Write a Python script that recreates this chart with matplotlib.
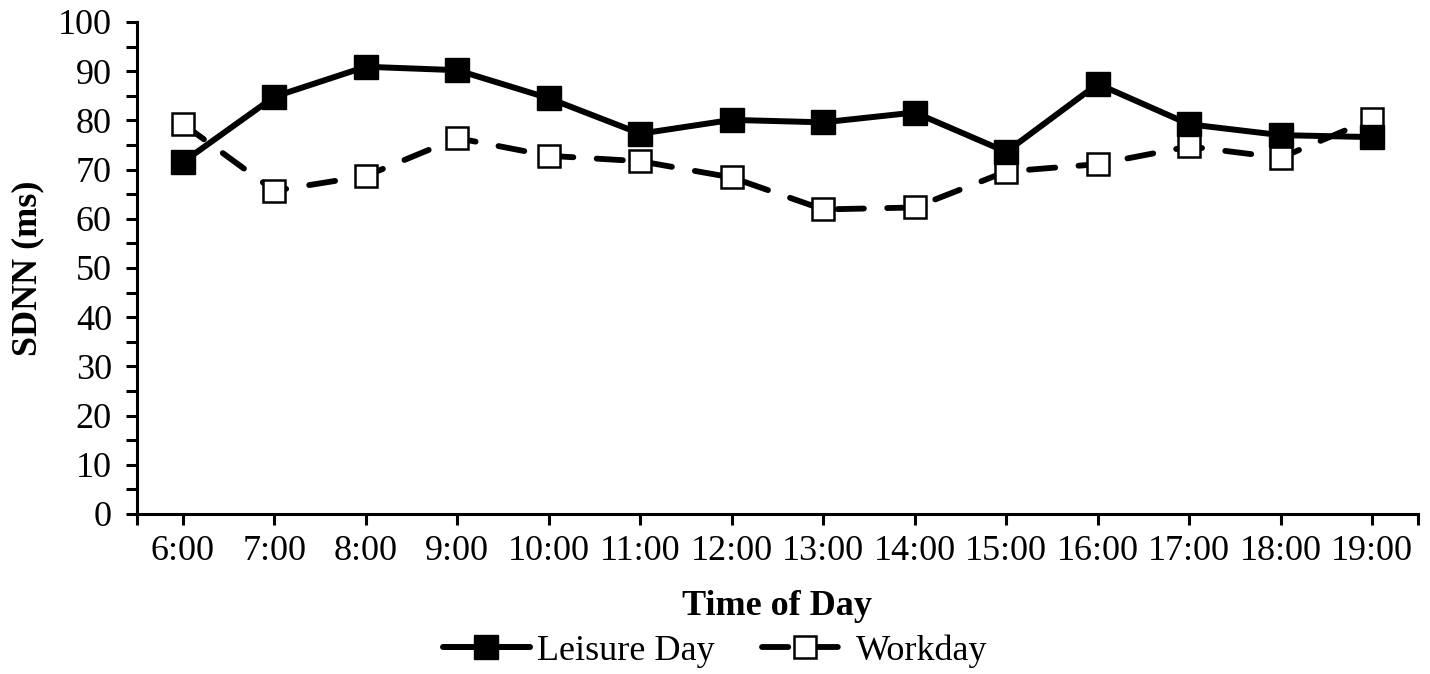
import matplotlib
matplotlib.use("Agg")
import matplotlib.pyplot as plt
from matplotlib.ticker import MultipleLocator, FixedLocator

times = ["6:00", "7:00", "8:00", "9:00", "10:00", "11:00", "12:00", "13:00",
         "14:00", "15:00", "16:00", "17:00", "18:00", "19:00"]
leisure = [71.5, 84.8, 90.9, 90.2, 84.5, 77.3, 80.1, 79.6, 81.6, 73.6, 87.4, 79.2, 77.0, 76.6]
workday = [79.3, 65.7, 68.7, 76.4, 72.8, 71.7, 68.4, 61.9, 62.3, 69.6, 71.1, 74.7, 72.4, 80.3]

plt.rcParams['font.family'] = ['Liberation Serif', 'DejaVu Serif']

fig = plt.figure(figsize=(14.3, 6.74), dpi=100)
ax = fig.add_axes([0.0958, 0.2374, 0.8958, 0.73])

x = list(range(len(times)))
ax.plot(x, workday, color='black', lw=4.2, dashes=(4.5, 4), dash_capstyle='round',
        marker='s', markersize=16, markerfacecolor='white', markeredgecolor='black',
        markeredgewidth=1.8, label='Workday', zorder=3)
ax.plot(x, leisure, color='black', lw=4.3, solid_capstyle='round',
        marker='s', markersize=17, markerfacecolor='black', markeredgecolor='black',
        label='Leisure Day', zorder=4)

ax.set_xlim(-0.5, len(times) - 0.5)
ax.set_ylim(0, 100)
ax.set_xticks(x)
ax.set_xticklabels(times)
ax.xaxis.set_minor_locator(FixedLocator([-0.5, len(times) - 0.5]))
ax.yaxis.set_major_locator(MultipleLocator(10))
ax.yaxis.set_minor_locator(MultipleLocator(5))
ax.tick_params(axis='both', which='both', direction='out', length=8, width=2.2,
               labelsize=26, colors='black')
ax.tick_params(axis='x', which='major', pad=7)
ax.tick_params(axis='y', which='major', pad=10)
for s in ['top', 'right']:
    ax.spines[s].set_visible(False)
for s in ['left', 'bottom']:
    ax.spines[s].set_linewidth(2.2)

ax.set_xlabel('Time of Day', fontsize=26, fontweight='bold', labelpad=16)
ax.set_ylabel('SDNN (ms)', fontsize=26, fontweight='bold', labelpad=10)

handles, labels = ax.get_legend_handles_labels()
order = [1, 0]
leg = fig.legend([handles[i] for i in order], [labels[i] for i in order],
                 loc='center', bbox_to_anchor=(0.5, 0.034), ncol=2, frameon=False,
                 fontsize=26, handlelength=2.4, columnspacing=1.3, handletextpad=0.2)

fig.savefig('out.png', dpi=100)
